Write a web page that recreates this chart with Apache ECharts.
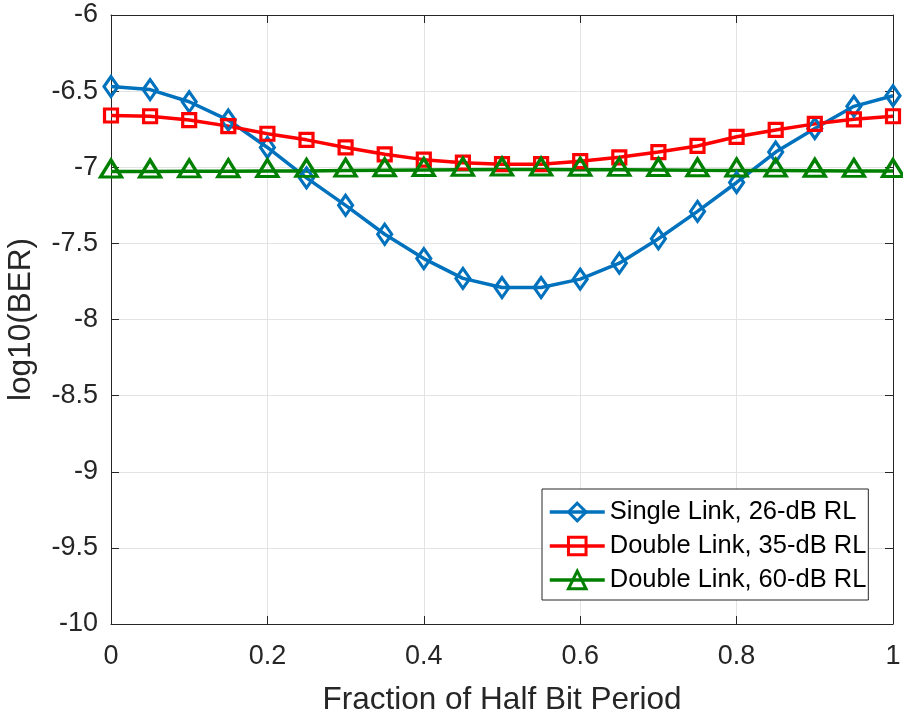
<!DOCTYPE html>
<html>
<head>
<meta charset="utf-8">
<script src="https://cdn.jsdelivr.net/npm/echarts@6/dist/echarts.min.js"></script>
<style>
  html, body { margin: 0; padding: 0; background: #fff; }
  #chart { width: 903px; height: 714px; }
</style>
</head>
<body>
<div id="chart"></div>
<script>
// Sampling phase as a fraction of half a bit period
const fraction = [0, 0.05, 0.1, 0.15, 0.2, 0.25, 0.3, 0.35, 0.4, 0.45, 0.5,
                  0.55, 0.6, 0.65, 0.7, 0.75, 0.8, 0.85, 0.9, 0.95, 1.0];

// log10(BER) for each link configuration
const singleLink26 = [-6.47, -6.49, -6.57, -6.69, -6.87, -7.07, -7.25, -7.44, -7.60, -7.73, -7.79,
                      -7.79, -7.735, -7.63, -7.47, -7.29, -7.10, -6.90, -6.745, -6.60, -6.53];
const doubleLink35 = [-6.66, -6.665, -6.69, -6.73, -6.78, -6.82, -6.87, -6.915, -6.95, -6.97, -6.98,
                      -6.98, -6.96, -6.935, -6.90, -6.86, -6.80, -6.755, -6.715, -6.685, -6.665];
const doubleLink60 = [-7.028, -7.028, -7.027, -7.026, -7.025, -7.024, -7.022, -7.02, -7.018, -7.016, -7.015,
                      -7.015, -7.016, -7.017, -7.018, -7.02, -7.021, -7.022, -7.023, -7.024, -7.025];

const seriesNames = ['Single Link, 26-dB RL', 'Double Link, 35-dB RL', 'Double Link, 60-dB RL'];
const xTicks = [0, 0.2, 0.4, 0.6, 0.8, 1];
const yTicks = [-10, -9.5, -9, -8.5, -8, -7.5, -7, -6.5, -6];

const pair = (xs, ys) => xs.map((x, i) => [x, ys[i]]);

const axisColor = '#262626';
const font = 'Liberation Sans, Arial, Helvetica, sans-serif';

function lineSeries(name, ys, color, symbol, size, offset) {
  return {
    name: name,
    type: 'line',
    data: pair(fraction, ys),
    symbol: symbol,
    symbolSize: size,
    symbolOffset: offset || [0, 0],
    showAllSymbol: true,
    lineStyle: { color: color, width: 3.5 },
    itemStyle: { color: 'rgba(255,255,255,0)', borderColor: color, borderWidth: 3.2 },
    emphasis: { disabled: true },
    z: 3
  };
}

const chart = echarts.init(document.getElementById('chart'), null, { renderer: 'canvas' });

chart.setOption({
  backgroundColor: '#fff',
  animation: false,
  textStyle: { fontFamily: font },
  grid: { left: 111, right: 10, top: 15, bottom: 90, containLabel: false, outerBoundsMode: 'none' },
  legend: {
    orient: 'vertical',
    left: 542,
    top: 489,
    data: seriesNames,
    backgroundColor: '#fff',
    borderColor: axisColor,
    borderWidth: 1,
    borderRadius: 0,
    padding: [10, 2, 7, 6],
    itemWidth: 55,
    itemHeight: 22,
    itemGap: 8,
    lineStyle: { width: 3.5 },
    itemStyle: { borderWidth: 3 },
    textStyle: { fontSize: 25.5, color: '#000', fontFamily: font },
    z: 10
  },
  xAxis: [
    {
      type: 'value', min: 0, max: 1, interval: 0.2,
      name: 'Fraction of Half Bit Period',
      nameLocation: 'middle', nameGap: 60,
      nameTextStyle: { fontSize: 31.5, color: axisColor, fontFamily: font },
      axisLine: { show: true, onZero: false, lineStyle: { color: axisColor, width: 1 } },
      axisTick: { show: true, inside: true, length: 8, lineStyle: { color: axisColor } },
      axisLabel: {
        fontSize: 27, color: axisColor, margin: 19, fontFamily: font,
        formatter: v => xTicks.includes(+v.toFixed(2)) ? String(+v.toFixed(2)) : ''
      },
      splitLine: { show: true, lineStyle: { color: '#e3e3e3', width: 1 } }
    },
    {
      type: 'value', min: 0, max: 1, interval: 0.2, position: 'top',
      axisLine: { show: true, onZero: false, lineStyle: { color: axisColor, width: 1 } },
      axisTick: { show: true, inside: true, length: 8, lineStyle: { color: axisColor } },
      axisLabel: { show: false },
      splitLine: { show: false }
    }
  ],
  yAxis: [
    {
      type: 'value', min: -10, max: -6, interval: 0.5,
      name: 'log10(BER)',
      nameLocation: 'middle', nameGap: 74, nameRotate: 90,
      nameTextStyle: { fontSize: 31.5, color: axisColor, fontFamily: font },
      axisLine: { show: true, onZero: false, lineStyle: { color: axisColor, width: 1 } },
      axisTick: { show: true, inside: true, length: 8, lineStyle: { color: axisColor } },
      axisLabel: {
        fontSize: 27, color: axisColor, margin: 13, fontFamily: font,
        formatter: v => yTicks.includes(+v.toFixed(1)) ? String(+v.toFixed(1)) : ''
      },
      splitLine: { show: true, lineStyle: { color: '#e3e3e3', width: 1 } }
    },
    {
      type: 'value', min: -10, max: -6, interval: 0.5, position: 'right',
      axisLine: { show: true, onZero: false, lineStyle: { color: axisColor, width: 1 } },
      axisTick: { show: true, inside: true, length: 8, lineStyle: { color: axisColor } },
      axisLabel: { show: false },
      splitLine: { show: false }
    }
  ],
  series: [
    lineSeries(seriesNames[0], singleLink26, '#0072BD', 'diamond', [14, 20]),
    lineSeries(seriesNames[1], doubleLink35, '#FF0000', 'rect', 13),
    lineSeries(seriesNames[2], doubleLink60, '#008000', 'triangle', [21, 17], [0, -3])
  ]
});
</script>
</body>
</html>
